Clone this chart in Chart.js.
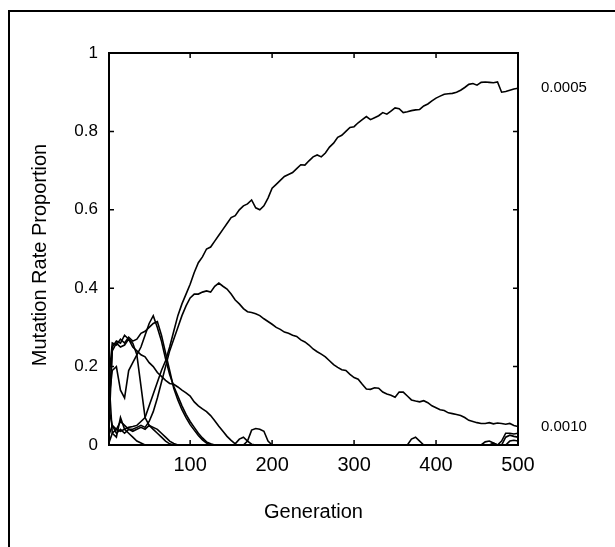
<!DOCTYPE html>
<html>
<head>
<meta charset="utf-8">
<script src="https://cdn.jsdelivr.net/npm/chart.js@4"></script>
<style>
  html, body { margin: 0; padding: 0; background: #fff; overflow: hidden; }
  #wrap { position: relative; width: 615px; height: 547px; }
</style>
</head>
<body>
<div id="wrap"><canvas id="chart" width="615" height="547"></canvas></div>
<script>
// generations, every 5
const gens = [
  0, 5, 10, 15, 20, 25, 30, 35, 40, 45, 50, 55, 60, 65, 70, 75, 80, 85, 90, 95,
  100, 105, 110, 115, 120, 125, 130, 135, 140, 145, 150, 155, 160, 165, 170, 175, 180, 185, 190, 195,
  200, 205, 210, 215, 220, 225, 230, 235, 240, 245, 250, 255, 260, 265, 270, 275, 280, 285, 290, 295,
  300, 305, 310, 315, 320, 325, 330, 335, 340, 345, 350, 355, 360, 365, 370, 375, 380, 385, 390, 395,
  400, 405, 410, 415, 420, 425, 430, 435, 440, 445, 450, 455, 460, 465, 470, 475, 480, 485, 490, 495,
  500
];

// mutation rate 0.0005
const rate0005 = [
  0.0, 0.03, 0.04, 0.035, 0.04, 0.045, 0.047, 0.05, 0.06, 0.07,
  0.1, 0.13, 0.16, 0.19, 0.215, 0.25, 0.29, 0.33, 0.36, 0.385,
  0.41, 0.44, 0.465, 0.48, 0.5, 0.505, 0.52, 0.535, 0.55, 0.565,
  0.58, 0.585, 0.6, 0.61, 0.615, 0.625, 0.605, 0.6, 0.61, 0.63,
  0.655, 0.665, 0.675, 0.685, 0.69, 0.695, 0.705, 0.715, 0.714, 0.725,
  0.735, 0.74, 0.735, 0.745, 0.76, 0.77, 0.785, 0.79, 0.8, 0.81,
  0.812, 0.822, 0.83, 0.838, 0.83, 0.835, 0.84, 0.848, 0.844, 0.852,
  0.86, 0.858, 0.848, 0.85, 0.853, 0.855, 0.856, 0.865, 0.87, 0.878,
  0.885, 0.89, 0.895, 0.896, 0.897, 0.9, 0.905, 0.912, 0.92, 0.922,
  0.918, 0.925, 0.926, 0.925, 0.924, 0.926, 0.9, 0.902, 0.905, 0.908,
  0.91
];

// mutation rate 0.0010
const rate0010 = [
  0.02, 0.05, 0.03, 0.04, 0.03, 0.04, 0.04, 0.045, 0.05, 0.045,
  0.06, 0.085, 0.12, 0.16, 0.2, 0.24, 0.27, 0.3, 0.33, 0.355,
  0.375, 0.385, 0.385, 0.39, 0.393, 0.39, 0.405, 0.413, 0.405, 0.398,
  0.385, 0.37, 0.36, 0.348, 0.34, 0.338, 0.335, 0.33, 0.322, 0.315,
  0.308, 0.3, 0.295, 0.288, 0.285, 0.28, 0.277, 0.268, 0.263, 0.255,
  0.245, 0.238, 0.232, 0.225, 0.215, 0.205, 0.198, 0.192, 0.19, 0.18,
  0.172, 0.168, 0.155, 0.143, 0.142, 0.146, 0.145, 0.135, 0.13, 0.127,
  0.122, 0.135, 0.135, 0.125, 0.115, 0.112, 0.11, 0.113, 0.108, 0.1,
  0.095, 0.09, 0.088, 0.082, 0.08, 0.078, 0.075, 0.07, 0.063, 0.06,
  0.057, 0.055, 0.055, 0.057, 0.054, 0.056, 0.055, 0.053, 0.055, 0.05,
  0.047
];

// higher rates, die out early
const rateC = [
  0.1, 0.19, 0.2, 0.14, 0.12, 0.19, 0.21, 0.23, 0.25, 0.28,
  0.31, 0.33, 0.3, 0.265, 0.22, 0.18, 0.15, 0.125, 0.1, 0.078,
  0.06, 0.045, 0.03, 0.018, 0.008, 0.003, 0, 0, 0, 0,
  0, 0, 0, 0, 0.01, 0.038, 0.042, 0.04, 0.035, 0.01,
  0, 0, 0, 0, 0, 0, 0, 0, 0, 0,
  0, 0, 0, 0, 0, 0, 0, 0, 0, 0,
  0, 0, 0, 0, 0, 0, 0, 0, 0, 0,
  0, 0, 0, 0, 0, 0, 0, 0, 0, 0,
  0, 0, 0, 0, 0, 0, 0, 0, 0, 0,
  0, 0, 0, 0, 0, 0, 0, 0, 0, 0,
  0
];

const rateD = [
  0.15, 0.26, 0.255, 0.27, 0.26, 0.275, 0.265, 0.27, 0.285, 0.29,
  0.3, 0.31, 0.315, 0.28, 0.235, 0.19, 0.145, 0.115, 0.09, 0.07,
  0.052, 0.038, 0.024, 0.013, 0.005, 0, 0, 0, 0, 0,
  0, 0, 0, 0, 0, 0, 0, 0, 0, 0,
  0, 0, 0, 0, 0, 0, 0, 0, 0, 0,
  0, 0, 0, 0, 0, 0, 0, 0, 0, 0,
  0, 0, 0, 0, 0, 0, 0, 0, 0, 0,
  0, 0, 0, 0, 0, 0, 0, 0, 0, 0,
  0, 0, 0, 0, 0, 0, 0, 0, 0, 0,
  0, 0, 0, 0, 0, 0, 0, 0, 0.01, 0.012,
  0.01
];

const rateE = [
  0.05, 0.25, 0.265, 0.26, 0.28, 0.27, 0.25, 0.24, 0.23, 0.225,
  0.21, 0.2, 0.185, 0.175, 0.165, 0.157, 0.155, 0.148, 0.14, 0.133,
  0.125, 0.11, 0.1, 0.092, 0.085, 0.075, 0.062, 0.048, 0.035, 0.022,
  0.012, 0.003, 0.015, 0.02, 0.01, 0.002, 0, 0, 0, 0,
  0, 0, 0, 0, 0, 0, 0, 0, 0, 0,
  0, 0, 0, 0, 0, 0, 0, 0, 0, 0,
  0, 0, 0, 0, 0, 0, 0, 0, 0, 0,
  0, 0, 0, 0, 0, 0, 0, 0, 0, 0,
  0, 0, 0, 0, 0, 0, 0, 0, 0, 0,
  0, 0, 0, 0, 0.005, 0, 0, 0, 0, 0,
  0
];

const rateF = [
  0.0, 0.24, 0.26, 0.25, 0.255, 0.27, 0.26, 0.23, 0.15, 0.07,
  0.05, 0.045, 0.04, 0.03, 0.02, 0.01, 0.004, 0, 0, 0,
  0, 0, 0, 0, 0, 0, 0, 0, 0, 0,
  0, 0, 0, 0, 0, 0, 0, 0, 0, 0,
  0, 0, 0, 0, 0, 0, 0, 0, 0, 0,
  0, 0, 0, 0, 0, 0, 0, 0, 0, 0,
  0, 0, 0, 0, 0, 0, 0, 0, 0, 0,
  0, 0, 0, 0, 0.015, 0.02, 0.01, 0, 0, 0,
  0, 0, 0, 0, 0, 0, 0, 0, 0, 0,
  0, 0, 0, 0, 0, 0, 0, 0.02, 0.025, 0.022,
  0.02
];

const rateG = [
  0.1, 0.05, 0.04, 0.06, 0.05, 0.04, 0.035, 0.04, 0.045, 0.04,
  0.05, 0.04, 0.03, 0.02, 0.01, 0.003, 0, 0, 0, 0,
  0, 0, 0, 0, 0, 0, 0, 0, 0, 0,
  0, 0, 0, 0, 0, 0, 0, 0, 0, 0,
  0, 0, 0, 0, 0, 0, 0, 0, 0, 0,
  0, 0, 0, 0, 0, 0, 0, 0, 0, 0,
  0, 0, 0, 0, 0, 0, 0, 0, 0, 0,
  0, 0, 0, 0, 0, 0, 0, 0, 0, 0,
  0, 0, 0, 0, 0, 0, 0, 0, 0, 0,
  0, 0, 0.008, 0.01, 0.005, 0, 0.01, 0.03, 0.03, 0.028,
  0.03
];

const rateH = [
  0.2, 0.03, 0.02, 0.07, 0.04, 0.03, 0.02, 0.01, 0.005, 0,
  0, 0, 0, 0, 0, 0, 0, 0, 0, 0,
  0, 0, 0, 0, 0, 0, 0, 0, 0, 0,
  0, 0, 0, 0, 0, 0, 0, 0, 0, 0,
  0, 0, 0, 0, 0, 0, 0, 0, 0, 0,
  0, 0, 0, 0, 0, 0, 0, 0, 0, 0,
  0, 0, 0, 0, 0, 0, 0, 0, 0, 0,
  0, 0, 0, 0, 0, 0, 0, 0, 0, 0,
  0, 0, 0, 0, 0, 0, 0, 0, 0, 0,
  0, 0, 0, 0, 0, 0, 0, 0, 0, 0,
  0
];

const seriesList = [rate0005, rate0010, rateC, rateD, rateE, rateF, rateG, rateH];
const seriesNames = ['0.0005', '0.0010', 'C', 'D', 'E', 'F', 'G', 'H'];
const endLabels = ['0.0005', '0.0010'];

const xTicks = [100, 200, 300, 400, 500];
const yTicks = [0, 0.2, 0.4, 0.6, 0.8, 1];
const xTitle = 'Generation';
const yTitle = 'Mutation Rate Proportion';

const FONT = 'Liberation Sans, Arial, Helvetica, sans-serif';

// frame, plot box, inward ticks, titles and end labels
const decorations = {
  id: 'decorations',
  afterDraw(chart) {
    const ctx = chart.ctx;
    const area = chart.chartArea;
    const xs = chart.scales.x;
    const ys = chart.scales.y;
    ctx.save();
    ctx.strokeStyle = '#000';

    // outer frame (top and left only)
    ctx.lineWidth = 2;
    ctx.beginPath();
    ctx.moveTo(9, 547);
    ctx.lineTo(9, 11);
    ctx.lineTo(615, 11);
    ctx.stroke();

    // plot box
    ctx.lineWidth = 2;
    ctx.strokeRect(area.left, area.top, area.right - area.left, area.bottom - area.top);

    // inward ticks
    ctx.lineWidth = 1.5;
    ctx.beginPath();
    xTicks.forEach(v => {
      const px = xs.getPixelForValue(v);
      ctx.moveTo(px, area.bottom);
      ctx.lineTo(px, area.bottom - 5);
      ctx.moveTo(px, area.top);
      ctx.lineTo(px, area.top + 5);
    });
    yTicks.forEach(v => {
      const py = ys.getPixelForValue(v);
      ctx.moveTo(area.left, py);
      ctx.lineTo(area.left + 5, py);
      ctx.moveTo(area.right, py);
      ctx.lineTo(area.right - 5, py);
    });
    ctx.stroke();

    // axis titles
    ctx.fillStyle = '#000';
    ctx.font = '20px ' + FONT;
    ctx.textAlign = 'center';
    ctx.textBaseline = 'middle';
    ctx.fillText(xTitle, (area.left + area.right) / 2, 512);
    ctx.save();
    ctx.translate(40, 255);
    ctx.rotate(-Math.PI / 2);
    ctx.fillText(yTitle, 0, 0);
    ctx.restore();

    // end labels for the two surviving rates
    ctx.font = '15px ' + FONT;
    ctx.textAlign = 'left';
    [rate0005, rate0010].forEach((arr, i) => {
      const py = ys.getPixelForValue(arr[arr.length - 1]);
      ctx.fillText(endLabels[i], area.right + 23, py);
    });
    ctx.restore();
  }
};

const ctx = document.getElementById('chart');
new Chart(ctx, {
  type: 'line',
  data: {
    datasets: seriesList.map((arr, i) => ({
      label: seriesNames[i],
      data: arr.map((v, j) => ({ x: gens[j], y: v })),
      borderColor: '#000',
      borderWidth: 1.6,
      pointRadius: 0,
      tension: 0,
      fill: false
    }))
  },
  options: {
    responsive: false,
    animation: false,
    layout: { padding: { left: 0, right: 97, top: 53, bottom: 0 } },
    plugins: {
      legend: { display: false },
      tooltip: { enabled: false }
    },
    scales: {
      x: {
        type: 'linear',
        min: 1,
        max: 500,
        afterBuildTicks: s => { s.ticks = xTicks.map(v => ({ value: v })); },
        afterFit: s => { s.height = 102; },
        grid: { display: false, drawTicks: false },
        border: { display: false },
        ticks: {
          color: '#000',
          font: { family: FONT, size: 20 },
          padding: 8,
          maxRotation: 0,
          autoSkip: false
        }
      },
      y: {
        type: 'linear',
        min: 0,
        max: 1,
        afterBuildTicks: s => { s.ticks = yTicks.map(v => ({ value: v })); },
        afterFit: s => { s.width = 109; },
        grid: { display: false, drawTicks: false },
        border: { display: false },
        ticks: {
          color: '#000',
          font: { family: FONT, size: 17 },
          padding: 11,
          autoSkip: false,
          callback: v => String(v)
        }
      }
    }
  },
  plugins: [decorations]
});
</script>
</body>
</html>
